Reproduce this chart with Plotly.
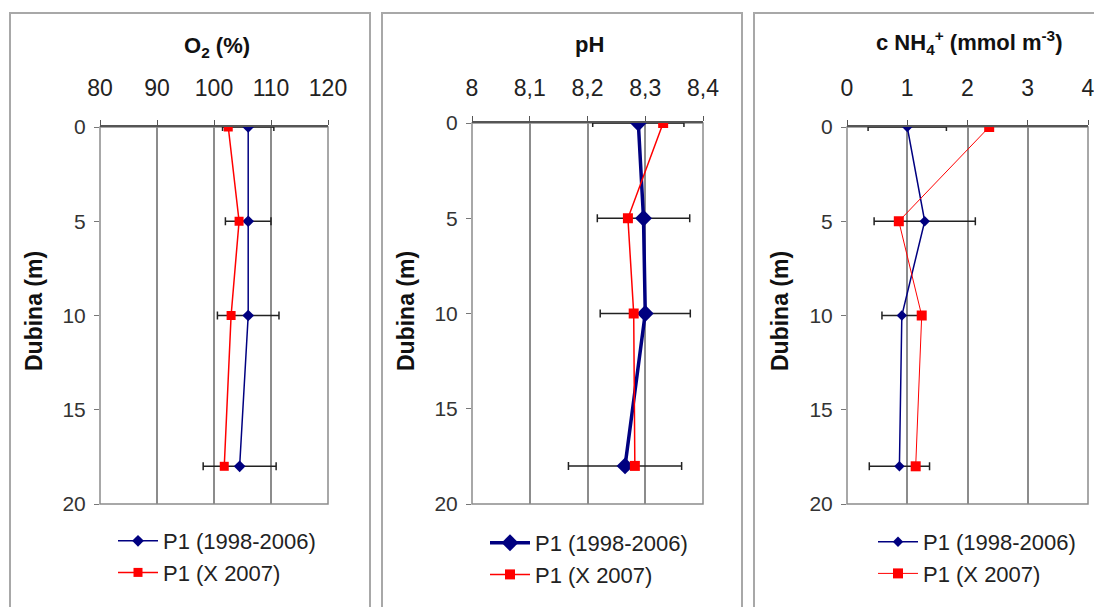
import plotly.graph_objects as go

# ---------------- data ----------------
depth = [0, 5, 10, 18]
series_names = ["P1 (1998-2006)", "P1 (X 2007)"]

o2_9806 = [106.0, 106.0, 106.0, 104.5]
o2_9806_err = [4.5, 4.0, 5.4, 6.4]
o2_x2007 = [102.5, 104.4, 103.0, 101.8]

ph_9806 = [8.288, 8.297, 8.300, 8.265]
ph_9806_err = [0.079, 0.080, 0.078, 0.098]
ph_x2007 = [8.331, 8.270, 8.280, 8.282]

nh4_9806 = [1.00, 1.29, 0.91, 0.87]
nh4_9806_err = [0.65, 0.84, 0.33, 0.50]
nh4_x2007 = [2.36, 0.86, 1.24, 1.14]

titles = ["O<sub>2</sub> (%)", "pH", "c NH<sub>4</sub><sup>+</sup> (mmol m<sup>-3</sup>)"]
ytitle = "Dubina (m)"
x_ranges = [[80, 120], [8.0, 8.4], [0, 4]]
x_ticks = [[80, 90, 100, 110, 120], [8.0, 8.1, 8.2, 8.3, 8.4], [0, 1, 2, 3, 4]]
x_ticklabels = [["80", "90", "100", "110", "120"],
                ["8", "8,1", "8,2", "8,3", "8,4"],
                ["0", "1", "2", "3", "4"]]
y_ticks = [0, 5, 10, 15, 20]

# ---------------- layout geometry (pixels, in window coordinates) ----------------
OFF = 8  # page body margin in the browser
W, H = 1102 - OFF, 607 - OFF
FONT = "Liberation Sans, Arial, sans-serif"
BLUE = "#000080"
RED = "#FF0000"
GRID = "#8c8c8c"

def px(x):
    return (x - OFF) / W

def py(y):
    return 1 - (y - OFF) / H

plot_boxes = [  # left, right, top, bottom in pixels
    (100, 328, 127, 504),
    (472, 703, 123, 504),
    (847, 1088, 127, 504),
]
panel_boxes = [(10, 370), (382, 742), (754, 1099)]
title_pos = [(217, 47), (590, 45), (969, 42)]
ytitle_x = [34, 406, 780]
legend_pos = [(113, 520), (485, 522), (873, 521)]
tick_standoff = [15, 11, 15]

blue_widths = [1.5, 3.5, 1.5]
red_widths = [1.5, 1.5, 1.0]
blue_msize = [9, 13, 8]
red_msize = [9, 10, 10]

data_sets = [
    (o2_9806, o2_9806_err, o2_x2007),
    (ph_9806, ph_9806_err, ph_x2007),
    (nh4_9806, nh4_9806_err, nh4_x2007),
]

fig = go.Figure()
annotations = []
shapes = []

for i, (blue_v, blue_e, red_v) in enumerate(data_sets):
    n = "" if i == 0 else str(i + 1)
    xa = "x" + n
    ya = "y" + n
    lg = "legend" + n
    fig.add_trace(go.Scatter(
        x=blue_v, y=depth, name=series_names[0], mode="lines+markers",
        xaxis=xa, yaxis=ya, legend=lg,
        line=dict(color=BLUE, width=blue_widths[i]),
        marker=dict(symbol="diamond", size=blue_msize[i], color=BLUE),
        error_x=dict(type="data", array=blue_e, symmetric=True,
                     color="#222222", thickness=1.5, width=4),
    ))
    fig.add_trace(go.Scatter(
        x=red_v, y=depth, name=series_names[1], mode="lines+markers",
        xaxis=xa, yaxis=ya, legend=lg,
        line=dict(color=RED, width=red_widths[i]),
        marker=dict(symbol="square", size=red_msize[i], color=RED),
    ))

    l, r, t, b = plot_boxes[i]
    fig.update_layout(**{
        "xaxis" + n: dict(
            domain=[px(l), px(r)], anchor=ya, side="top",
            range=x_ranges[i], tickvals=x_ticks[i], ticktext=x_ticklabels[i],
            showgrid=True, gridcolor=GRID, gridwidth=1.5,
            showline=True, linecolor="#555555", linewidth=1.5,
            ticks="outside", ticklen=5, tickcolor="#555555",
            ticklabelstandoff=tick_standoff[i], zeroline=False, automargin=False,
            ticklabeloverflow="allow",
            tickfont=dict(family=FONT, size=23, color="#222222"),
        ),
        "yaxis" + n: dict(
            domain=[py(b), py(t)], anchor=xa,
            range=[20, 0], tickvals=y_ticks,
            showgrid=False, zeroline=False, showline=False,
            ticks="outside", ticklen=5, tickcolor="#777777",
            ticklabelstandoff=4, automargin=False,
            tickfont=dict(family=FONT, size=21, color="#333333"),
        ),
        lg: dict(
            x=px(legend_pos[i][0]), y=py(legend_pos[i][1]),
            xanchor="left", yanchor="top",
            bgcolor="rgba(0,0,0,0)", borderwidth=0,
            font=dict(family=FONT, size=22, color="#222222"),
            tracegroupgap=0, itemwidth=40,
        ),
    })

    # plot-area frame (grey), drawn below traces
    shapes.append(dict(type="rect", xref=xa + " domain", yref=ya + " domain",
                       x0=0, x1=1, y0=0, y1=1, line=dict(color=GRID, width=1.5),
                       layer="below"))
    # panel border
    pl, pr = panel_boxes[i]
    shapes.append(dict(type="rect", xref="paper", yref="paper",
                       x0=px(pl), x1=px(pr), y0=py(607 + 10), y1=py(13),
                       line=dict(color="#a8a8a8", width=2)))

    tx, ty = title_pos[i]
    annotations.append(dict(text="<b>" + titles[i] + "</b>", xref="paper", yref="paper",
                            x=px(tx), y=py(ty), xanchor="center", yanchor="middle",
                            showarrow=False,
                            font=dict(family=FONT, size=22, color="#111111")))
    annotations.append(dict(text="<b>" + ytitle + "</b>", xref="paper", yref="paper",
                            x=px(ytitle_x[i]), y=py(311), xanchor="center", yanchor="middle",
                            textangle=-90, showarrow=False,
                            font=dict(family=FONT, size=23, color="#111111")))

fig.update_layout(
    width=W, height=H,
    margin=dict(l=0, r=0, t=0, b=0, autoexpand=False),
    paper_bgcolor="white", plot_bgcolor="white",
    annotations=annotations, shapes=shapes,
    font=dict(family=FONT),
)

fig.write_html("out.html")
